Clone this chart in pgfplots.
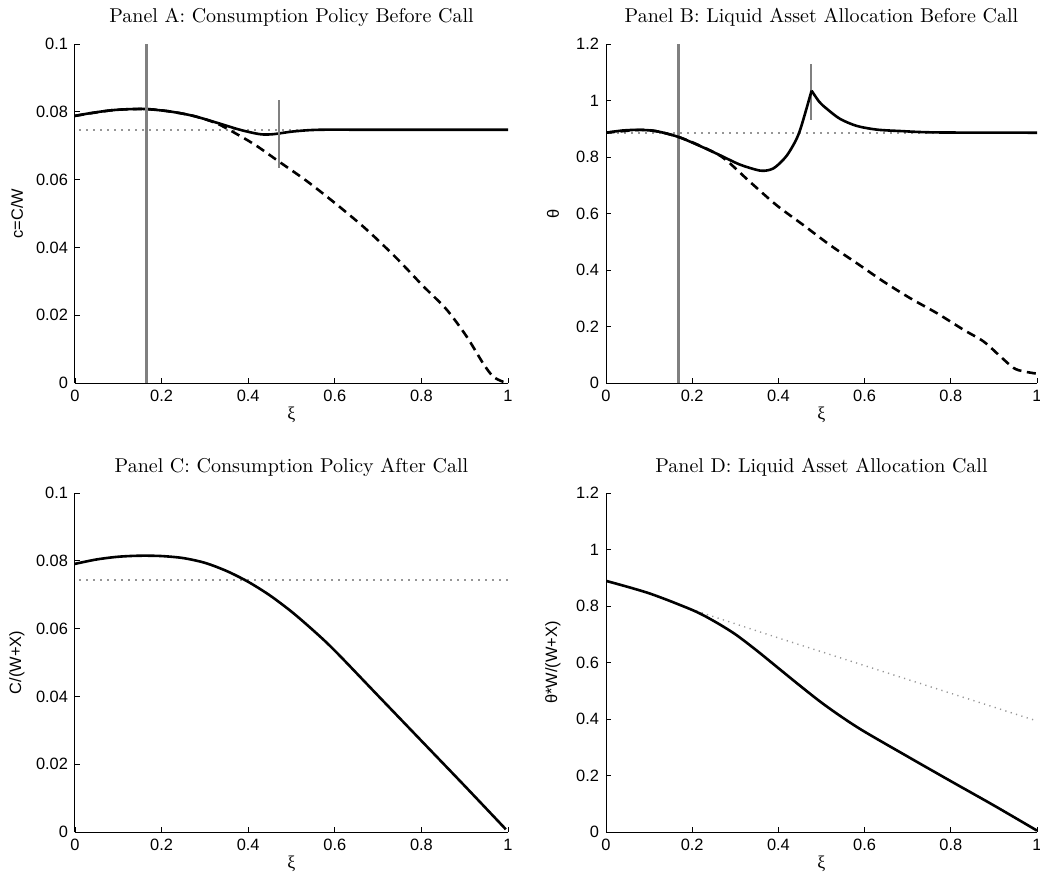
\documentclass[border=0pt]{standalone}
\usepackage{fontspec}
\usepackage{pgfplots}
\pgfplotsset{compat=1.18}
\newfontfamily\arial{Liberation Sans}
\newfontfamily\symf{Liberation Serif}
\definecolor{vgray}{RGB}{128,128,128}
\definecolor{dgray}{RGB}{150,150,150}
\pgfplotsset{
 panel/.style={
  scale only axis, height=169.5pt,
  xmin=0,xmax=1, ymin=0,
  axis lines=left, axis line style={-, line width=0.5pt},
  tick align=inside, major tick length=2.5pt,
  tick style={black, line width=0.4pt},
  xtick={0,0.2,0.4,0.6,0.8,1}, xticklabels={0,0.2,0.4,0.6,0.8,1},
  ticklabel style={font=\fontsize{8.2}{9}\arial},
  xlabel={\symf ξ},
  xlabel style={at={(axis description cs:0.5,0)}, anchor=center, yshift=-16pt, font=\fontsize{9}{10}\arial},
  title style={at={(axis description cs:0.5,1)}, anchor=center, font=\fontsize{10}{12}\selectfont},
 },
 smallax/.style={ymax=0.1, ytick={0,0.02,0.04,0.06,0.08,0.1}, yticklabels={0,0.02,0.04,0.06,0.08,0.1}},
 bigax/.style={ymax=1.2, ytick={0,0.2,0.4,0.6,0.8,1,1.2}, yticklabels={0,0.2,0.4,0.6,0.8,1,1.2}},
 ylab/.style={ylabel style={at={([xshift=-#1]axis description cs:0,0.5)}, anchor=center, font=\fontsize{8.2}{9}\arial}},
 solidc/.style={black, line width=1.3pt, smooth, tension=0.5},
 dashc/.style={black, line width=1.3pt, dash pattern=on 4.5pt off 2.8pt, smooth, tension=0.5},
 dotc/.style={dgray, line width=1pt, dash pattern=on 0.8pt off 2.7pt},
 vline/.style={vgray, line width=1.5pt},
 sline/.style={vgray, line width=1pt},
}
\begin{document}
\begin{tikzpicture}
% Panel A
\begin{axis}[panel, smallax, width=216.5pt, at={(0pt,0pt)}, anchor=south west,
  title={Panel A: Consumption Policy Before Call}, title style={yshift=7.5pt},
  ylab=29pt, ylabel={c=C/W}]
\addplot[dotc] coordinates {(0.01,0.0746)(1,0.0746)};
\addplot[dashc] coordinates {(0,0.0788)(0.088,0.0805)(0.165,0.0808)(0.219,0.0801)(0.273,0.0788)(0.327,0.0766)(0.381,0.0729)(0.42,0.0699)(0.469,0.0655)(0.535,0.0596)(0.604,0.0527)(0.673,0.0453)(0.742,0.0369)(0.804,0.0286)(0.858,0.0217)(0.904,0.0138)(0.942,0.0059)(0.965,0.002)(0.988,0.0004)(1,0.0004)};
\addplot[solidc] coordinates {(0,0.0788)(0.04,0.0797)(0.088,0.0805)(0.13,0.0808)(0.165,0.0808)(0.219,0.0801)(0.273,0.0788)(0.327,0.0768)(0.381,0.0747)(0.427,0.0734)(0.458,0.0734)(0.504,0.0742)(0.565,0.0747)(0.7,0.0747)(1,0.0747)};
\addplot[vline] coordinates {(0.166,0)(0.166,0.1)};
\addplot[sline] coordinates {(0.4715,0.0635)(0.4715,0.0835)};
\end{axis}
% Panel B
\begin{axis}[panel, bigax, width=215.5pt, at={(265.5pt,0pt)}, anchor=south west,
  title={Panel B: Liquid Asset Allocation Before Call}, title style={yshift=7.5pt},
  ylab=26.5pt, ylabel={θ}]
\addplot[dotc] coordinates {(0.01,0.886)(1,0.886)};
\addplot[vline] coordinates {(0.168,0)(0.168,1.2)};
\addplot[sline] coordinates {(0.476,0.932)(0.476,1.13)};
\addplot[dashc] coordinates {(0,0.886)(0.079,0.896)(0.118,0.891)(0.168,0.871)(0.218,0.840)(0.272,0.797)(0.334,0.712)(0.396,0.629)(0.458,0.559)(0.520,0.488)(0.582,0.424)(0.644,0.359)(0.706,0.300)(0.768,0.247)(0.830,0.188)(0.876,0.147)(0.915,0.094)(0.946,0.053)(0.969,0.041)(1,0.033)};
\addplot[solidc] coordinates {(0,0.886)(0.04,0.894)(0.079,0.896)(0.118,0.891)(0.168,0.871)(0.218,0.839)(0.265,0.806)(0.311,0.773)(0.357,0.752)(0.381,0.755)(0.396,0.768)(0.419,0.804)(0.4385,0.853)(0.450,0.894)(0.464,0.965)(0.477,1.035)};
\addplot[solidc] coordinates {(0.477,1.035)(0.495,0.995)(0.512,0.971)(0.543,0.935)(0.582,0.910)(0.628,0.897)(0.682,0.892)(0.767,0.887)(1,0.886)};
\end{axis}
% Panel C
\begin{axis}[panel, smallax, width=216.5pt, at={(0pt,-224.5pt)}, anchor=south west,
  title={Panel C: Consumption Policy After Call}, title style={yshift=7pt},
  ylab=29pt, ylabel={C/(W+X)}]
\addplot[dotc] coordinates {(0.01,0.0744)(1,0.0744)};
\addplot[solidc] coordinates {(0,0.0791)(0.05,0.0804)(0.1,0.0812)(0.15,0.0815)(0.2,0.0814)(0.25,0.0808)(0.3,0.0794)(0.35,0.0770)(0.4,0.0738)(0.45,0.0698)(0.5,0.0650)(0.55,0.0595)(0.6,0.0535)(0.7,0.0402)(0.8,0.0269)(0.9,0.0136)(0.995,0.0008)};
\end{axis}
% Panel D
\begin{axis}[panel, bigax, width=215.5pt, at={(265.5pt,-224.5pt)}, anchor=south west,
  title={Panel D: Liquid Asset Allocation Call}, title style={yshift=7pt},
  ylab=26.5pt, ylabel={θ*W/(W+X)}]
\addplot[dgray, line width=0.7pt, dash pattern=on 0.6pt off 2.2pt, smooth] coordinates {(0,0.889)(0.1,0.845)(0.2,0.788)(0.3,0.737)(0.4,0.687)(0.5,0.638)(0.6,0.589)(0.7,0.540)(0.8,0.491)(0.9,0.442)(1,0.393)};
\addplot[solidc] coordinates {(0,0.889)(0.1,0.845)(0.2,0.786)(0.25,0.747)(0.3,0.700)(0.35,0.642)(0.4,0.580)(0.45,0.518)(0.5,0.458)(0.55,0.404)(0.6,0.355)(0.7,0.267)(0.8,0.180)(0.9,0.094)(1,0.005)};
\end{axis}
\pgfresetboundingbox
\useasboundingbox (-37.5pt,-248pt) rectangle (482.5pt,191.5pt);
\end{tikzpicture}
\end{document}
